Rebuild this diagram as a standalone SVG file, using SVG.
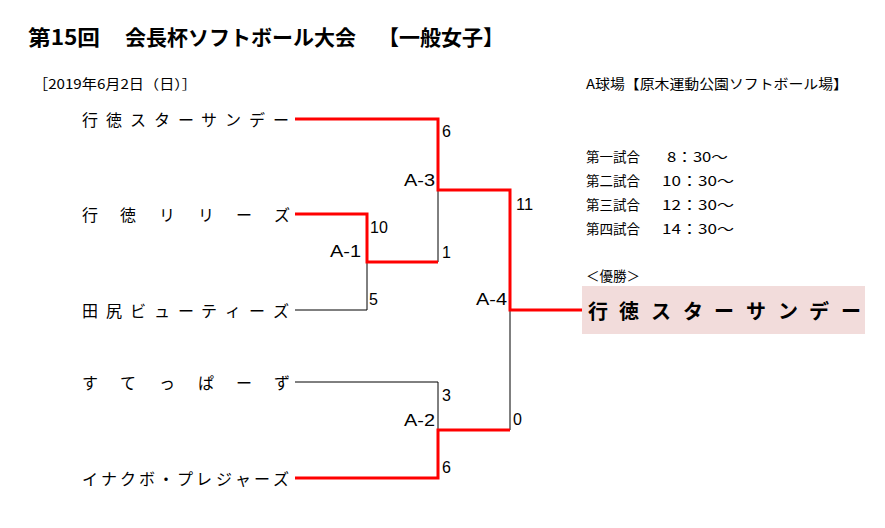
<svg xmlns="http://www.w3.org/2000/svg" width="885" height="528" viewBox="0 0 885 528">
<style>
text{font-family:"Noto Sans CJK JP","Liberation Sans",sans-serif;fill:#000}
.title{font-size:21px;font-weight:bold}
.small{font-size:13.5px}
.team{font-size:16px}
.num{font-family:"Liberation Sans","Noto Sans CJK JP",sans-serif;font-size:16px}
.win{stroke:#FF0000;stroke-width:3;fill:none;stroke-linejoin:miter}
.lose{stroke:#000;stroke-width:1;fill:none}
</style>
<rect width="885" height="528" fill="#fff"/>
<g id="header">
<text class="title" x="28" y="45" textLength="72" lengthAdjust="spacingAndGlyphs">第15回</text>
<text class="title" x="125" y="45">会長杯ソフトボール大会</text>
<text class="title" x="378" y="45">【一般女子】</text>
<text class="small" x="33" y="89" textLength="164" lengthAdjust="spacingAndGlyphs">［2019年6月2日（日）］</text>
<text class="small" x="586" y="89" textLength="262" lengthAdjust="spacingAndGlyphs">A球場【原木運動公園ソフトボール場】</text>
</g>
<g id="schedule">
<text class="small" x="586" y="162">第一試合</text>
<text class="small" x="667" y="162" textLength="61" lengthAdjust="spacingAndGlyphs">8：30～</text>
<text class="small" x="586" y="186">第二試合</text>
<text class="small" x="662" y="186" textLength="72" lengthAdjust="spacingAndGlyphs">10：30～</text>
<text class="small" x="586" y="210">第三試合</text>
<text class="small" x="662" y="210" textLength="72" lengthAdjust="spacingAndGlyphs">12：30～</text>
<text class="small" x="586" y="234">第四試合</text>
<text class="small" x="662" y="234" textLength="72" lengthAdjust="spacingAndGlyphs">14：30～</text>
</g>
<g id="team1"><text class="team" x="82 106 130 154 178 201 225 249 273" y="126">行徳スターサンデー</text></g>
<g id="team2"><text class="team" x="82 120 159 198 236 274" y="221">行徳リリーズ</text></g>
<g id="team3"><text class="team" x="82 106 130 154 178 201 225 249 273" y="317">田尻ビューティーズ</text></g>
<g id="team4"><text class="team" x="82 120 159 198 236 274" y="389">すてっぱーず</text></g>
<g id="team5"><text class="team" x="82 101 120 139 158 177 196 216 235 254 273" y="485">イナクボ・プレジャーズ</text></g>
<g id="connectors">
<path class="lose" d="M295,310 H367 V262"/>
<path class="lose" d="M438,262 V190"/>
<path class="lose" d="M295,382 H438 V430"/>
<path class="lose" d="M510,430 V310"/>
<path class="win" d="M295,214 H367 V262 H438"/>
<path class="win" d="M295,478 H438 V430 H510"/>
<path class="win" d="M295,119 H438 V190 H510 V310 H582"/>
</g>
<g id="scores">
<text class="num" x="442" y="137">6</text>
<text class="num" x="404" y="186" textLength="31" lengthAdjust="spacingAndGlyphs">A-3</text>
<text class="num" x="516" y="210" textLength="17" lengthAdjust="spacingAndGlyphs">11</text>
<text class="num" x="370" y="233">10</text>
<text class="num" x="330" y="257" textLength="31" lengthAdjust="spacingAndGlyphs">A-1</text>
<text class="num" x="442" y="258">1</text>
<text class="num" x="369" y="305">5</text>
<text class="num" x="476" y="305" textLength="31" lengthAdjust="spacingAndGlyphs">A-4</text>
<text class="num" x="442" y="401">3</text>
<text class="num" x="404" y="426" textLength="31" lengthAdjust="spacingAndGlyphs">A-2</text>
<text class="num" x="513" y="425">0</text>
<text class="num" x="442" y="473">6</text>
</g>
<g id="winner">
<text class="small" x="586" y="281">＜優勝＞</text>
<rect x="582" y="286" width="283" height="48" fill="#F2DCDB"/>
<text x="588 619 651 683 714 746 778 809 841" y="319" style="font-size:20px;font-weight:bold">行徳スターサンデー</text>
</g>
</svg>
